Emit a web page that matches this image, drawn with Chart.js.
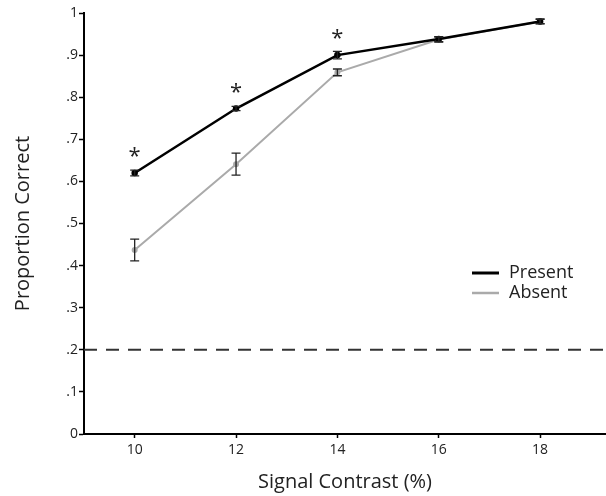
<!DOCTYPE html>
<html>
<head>
<meta charset="utf-8">
<script src="https://cdn.jsdelivr.net/npm/chart.js@4.4.0/dist/chart.umd.min.js"></script>
<style>
  html, body { margin: 0; padding: 0; background: #fff; }
  #wrap { width: 606px; height: 496px; }
</style>
</head>
<body>
<div id="wrap"><canvas id="chart"></canvas></div>
<script>
// data
const contrast = [10, 12, 14, 16, 18];
const presentMean = [0.620, 0.773, 0.900, 0.938, 0.980];
const presentErr = [0.007, 0.005, 0.009, 0.006, 0.006];
const absentMean = [0.437, 0.641, 0.859, 0.937, 0.980];
const absentErr = [0.026, 0.026, 0.008, 0.006, 0.005];
const significant = [true, true, true, false, false];
const chanceLevel = 0.2;

const xTicks = [10, 12, 14, 16, 18];
const yTicks = [0, 0.1, 0.2, 0.3, 0.4, 0.5, 0.6, 0.7, 0.8, 0.9, 1];
const yTickLabels = ["0", ".1", ".2", ".3", ".4", ".5", ".6", ".7", ".8", ".9", "1"];

const FONT = "'Open Sans', 'DejaVu Sans', sans-serif";

const toPoints = (means) => contrast.map((x, i) => ({ x: x, y: means[i] }));

// error bars, chance line, asterisks and legend
const extras = {
    id: "extras",
    beforeDatasetsDraw(chart) {
        const { ctx, chartArea, scales } = chart;
        const y = scales.y.getPixelForValue(chanceLevel);
        ctx.save();
        ctx.strokeStyle = "#333";
        ctx.lineWidth = 2;
        ctx.setLineDash([13, 9]);
        ctx.beginPath();
        ctx.moveTo(chartArea.left, y);
        ctx.lineTo(chartArea.right, y);
        ctx.stroke();
        ctx.restore();
    },
    afterDatasetsDraw(chart) {
        const { ctx, scales } = chart;
        const xs = scales.x, ys = scales.y;
        ctx.save();
        ctx.strokeStyle = "#222";
        ctx.lineWidth = 1.3;
        [[presentMean, presentErr], [absentMean, absentErr]].forEach(([m, e]) => {
            contrast.forEach((c, i) => {
                const px = xs.getPixelForValue(c);
                const top = ys.getPixelForValue(m[i] + e[i]);
                const bot = ys.getPixelForValue(m[i] - e[i]);
                ctx.beginPath();
                ctx.moveTo(px, top); ctx.lineTo(px, bot);
                ctx.moveTo(px - 4.5, top); ctx.lineTo(px + 4.5, top);
                ctx.moveTo(px - 4.5, bot); ctx.lineTo(px + 4.5, bot);
                ctx.stroke();
            });
        });

        // significance markers
        ctx.fillStyle = "#222";
        ctx.font = "22px " + FONT;
        ctx.textAlign = "center";
        ctx.textBaseline = "alphabetic";
        contrast.forEach((c, i) => {
            if (!significant[i]) return;
            const px = xs.getPixelForValue(c);
            const py = ys.getPixelForValue(presentMean[i]);
            ctx.fillText("*", px, py - 10);
        });

        // legend
        const lx = 472, ly = 273;
        const items = [["Present", "#000", 3], ["Absent", "#aaa", 2.5]];
        ctx.font = "18px " + FONT;
        ctx.textAlign = "left";
        ctx.textBaseline = "middle";
        items.forEach(([label, color, w], k) => {
            const yy = ly + k * 20;
            ctx.strokeStyle = color;
            ctx.lineWidth = w;
            ctx.beginPath();
            ctx.moveTo(lx, yy); ctx.lineTo(lx + 27, yy);
            ctx.stroke();
            ctx.fillStyle = "#222";
            ctx.fillText(label, lx + 37, yy);
        });
        ctx.restore();
    }
};

new Chart(document.getElementById("chart"), {
    type: "line",
    data: {
        datasets: [
            {
                label: "Present",
                data: toPoints(presentMean),
                borderColor: "#000",
                backgroundColor: "#000",
                borderWidth: 2.5,
                pointRadius: 2,
                tension: 0
            },
            {
                label: "Absent",
                data: toPoints(absentMean),
                borderColor: "#aaa",
                backgroundColor: "#aaa",
                borderWidth: 2,
                pointRadius: 2,
                tension: 0
            }
        ]
    },
    options: {
        responsive: true,
        maintainAspectRatio: false,
        animation: false,
        layout: { autoPadding: false, padding: { top: 13, right: 0, left: 0, bottom: 0 } },
        plugins: { legend: { display: false }, tooltip: { enabled: false } },
        scales: {
            x: {
                type: "linear",
                min: 9,
                max: 19.3,
                afterBuildTicks: (s) => { s.ticks = xTicks.map(v => ({ value: v })); },
                afterFit: (s) => { s.height = 62; s.paddingRight = 0; s.paddingLeft = 0; },
                border: { color: "#000", width: 2 },
                grid: { drawOnChartArea: false, drawTicks: true, tickLength: 4, tickColor: "#000", tickWidth: 1.5 },
                ticks: { color: "#222", padding: 4, font: { family: FONT, size: 14 } },
                title: {
                    display: true,
                    text: "Signal Contrast (%)",
                    color: "#222",
                    font: { family: FONT, size: 20 },
                    padding: { top: 0, bottom: 2 }
                }
            },
            y: {
                min: 0,
                max: 1,
                afterBuildTicks: (s) => { s.ticks = yTicks.map(v => ({ value: v })); },
                afterFit: (s) => { s.width = 84; },
                border: { color: "#000", width: 2 },
                grid: { drawOnChartArea: false, drawTicks: true, tickLength: 5, tickColor: "#000", tickWidth: 1.5 },
                ticks: {
                    color: "#222",
                    padding: 1,
                    font: { family: FONT, size: 14 },
                    callback: (v) => yTickLabels[yTicks.findIndex(t => Math.abs(t - v) < 1e-6)]
                },
                title: {
                    display: true,
                    text: "Proportion Correct",
                    color: "#222",
                    font: { family: FONT, size: 20 },
                    padding: { top: 11, bottom: 0 }
                }
            }
        }
    },
    plugins: [extras]
});
</script>
</body>
</html>
